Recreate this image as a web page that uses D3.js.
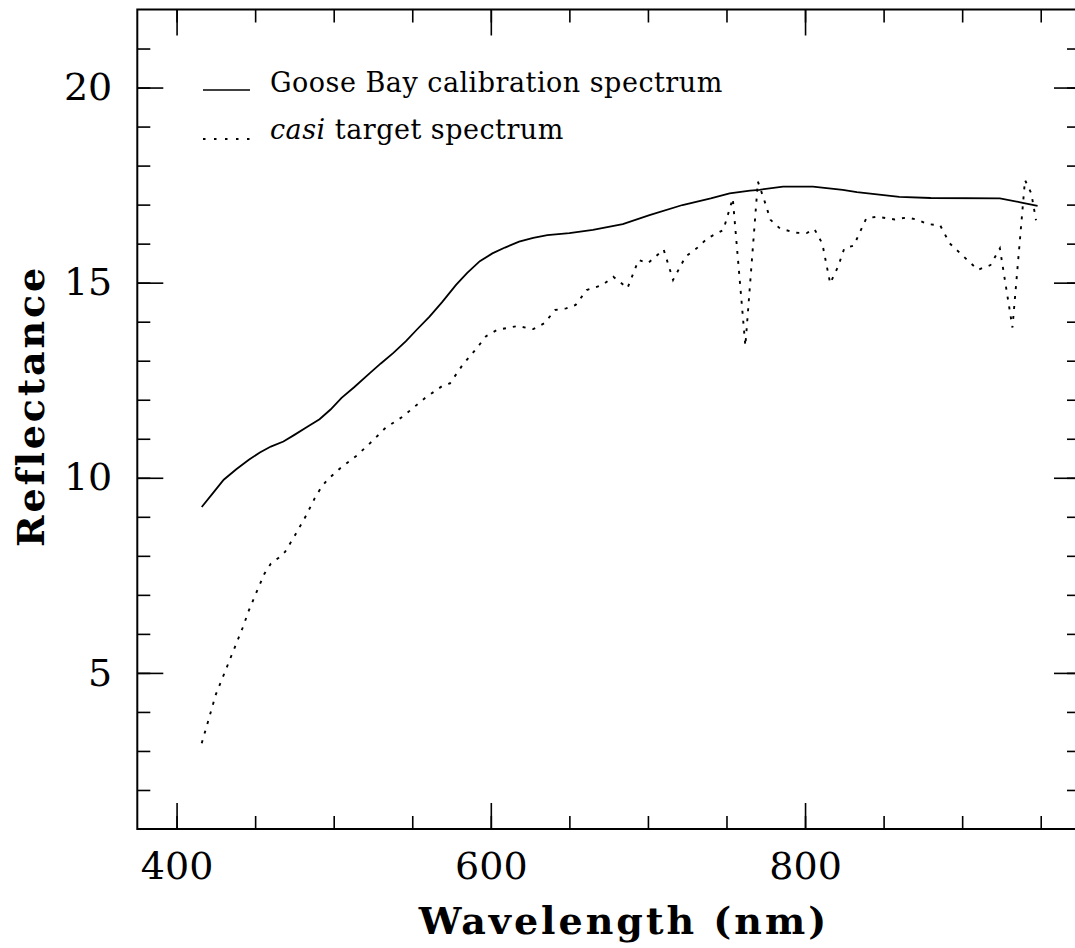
<!DOCTYPE html>
<html>
<head>
<meta charset="utf-8">
<script src="https://cdn.jsdelivr.net/npm/d3@7"></script>
<style>
  body { margin: 0; background: #fff; }
  svg { display: block; font-family: "DejaVu Serif", serif; }
</style>
</head>
<body>
<svg id="chart"></svg>
<script>
// Goose Bay calibration spectrum (solid)
var calWavelength = [416, 423, 430, 438, 446, 453, 460, 468, 475, 483, 491, 498, 505, 513, 523, 530, 538, 546, 553, 561, 569, 578, 585, 593, 601, 609, 618, 627, 636, 650, 665, 684, 701, 722, 740, 752, 765, 771, 786, 805, 824, 833, 860, 880, 924, 937, 948];
var calReflectance = [9.25, 9.6, 9.95, 10.22, 10.46, 10.65, 10.8, 10.93, 11.1, 11.3, 11.5, 11.75, 12.05, 12.32, 12.68, 12.93, 13.2, 13.5, 13.8, 14.13, 14.5, 14.95, 15.25, 15.55, 15.75, 15.9, 16.05, 16.15, 16.22, 16.27, 16.35, 16.5, 16.73, 16.99, 17.16, 17.29, 17.36, 17.38, 17.46, 17.46, 17.38, 17.32, 17.2, 17.17, 17.16, 17.06, 16.97];

// casi target spectrum (dotted)
var casiWavelength = [416, 420, 425, 432, 437, 442, 446, 451, 456, 460, 465, 469, 475, 482, 488, 492, 496, 504, 515, 524, 533, 544, 558, 569, 574, 582, 591, 597, 604, 617, 627, 634, 641, 648, 654, 661, 671, 678, 687, 694, 700, 710, 716, 724, 731, 738, 748, 754, 762, 770, 774, 778, 784, 794, 801, 806, 811, 816, 821, 825, 831, 839, 846, 857, 865, 871, 878, 886, 892, 902, 910, 918, 924, 932, 940, 944, 947];
var casiReflectance = [3.2, 3.75, 4.45, 5.15, 5.65, 6.15, 6.6, 7.08, 7.55, 7.8, 7.95, 8.1, 8.5, 9.0, 9.48, 9.75, 9.95, 10.24, 10.58, 10.92, 11.28, 11.57, 12.04, 12.35, 12.42, 12.89, 13.32, 13.63, 13.79, 13.89, 13.81, 13.96, 14.3, 14.34, 14.43, 14.81, 14.94, 15.15, 14.86, 15.58, 15.5, 15.85, 15.07, 15.67, 15.88, 16.14, 16.35, 17.16, 13.38, 17.59, 17.12, 16.61, 16.39, 16.28, 16.27, 16.37, 16.0, 14.98, 15.41, 15.88, 15.95, 16.65, 16.69, 16.62, 16.67, 16.62, 16.5, 16.47, 16.01, 15.63, 15.33, 15.45, 15.88, 13.85, 17.63, 17.29, 16.6];

var xMajorTicks = [400, 600, 800];
var xMinorTicks = [400, 450, 500, 550, 600, 650, 700, 750, 800, 850, 900, 950];
var yMajorTicks = [5, 10, 15, 20];
var yMinorTicks = [2, 3, 4, 5, 6, 7, 8, 9, 10, 11, 12, 13, 14, 15, 16, 17, 18, 19, 20, 21];

var seriesNames = ["Goose Bay calibration spectrum", "target spectrum"];

var svgWidth = 1075;
var svgHeight = 948;
var svg = d3.select("#chart")
    .attr("width", svgWidth)
    .attr("height", svgHeight);

var plotLeft = 137.3, plotRight = 1080, plotTop = 9.5, plotBottom = 829;

var x = d3.scaleLinear().domain([375, 975]).range([plotLeft, plotRight]);
var y = d3.scaleLinear().domain([1, 22]).range([plotBottom, plotTop]);

function styleAxis(g) {
  g.select(".domain").remove();
  g.selectAll(".tick line").attr("stroke", "#000").attr("stroke-width", 1.6);
  g.selectAll(".tick text")
    .attr("fill", "#000")
    .style("font-family", "DejaVu Serif")
    .style("font-size", "38px");
}

// minor ticks on all four sides (inward)
svg.append("g").attr("transform", "translate(0," + plotBottom + ")")
  .call(d3.axisBottom(x).tickValues(xMinorTicks).tickSize(-13).tickFormat(""))
  .call(styleAxis);
svg.append("g").attr("transform", "translate(0," + plotTop + ")")
  .call(d3.axisTop(x).tickValues(xMinorTicks).tickSize(-13).tickFormat(""))
  .call(styleAxis);
svg.append("g").attr("transform", "translate(" + plotLeft + ",0)")
  .call(d3.axisLeft(y).tickValues(yMinorTicks).tickSize(-13).tickFormat(""))
  .call(styleAxis);
svg.append("g").attr("transform", "translate(" + plotRight + ",0)")
  .call(d3.axisRight(y).tickValues(yMinorTicks).tickSize(-13).tickFormat(""))
  .call(styleAxis);

// major ticks, labelled on bottom and left
svg.append("g").attr("transform", "translate(0," + plotBottom + ")")
  .call(d3.axisBottom(x).tickValues(xMajorTicks).tickSize(-26).tickPadding(23).tickFormat(d3.format("d")))
  .call(styleAxis);
svg.append("g").attr("transform", "translate(0," + plotTop + ")")
  .call(d3.axisTop(x).tickValues(xMajorTicks).tickSize(-26).tickFormat(""))
  .call(styleAxis);
svg.append("g").attr("transform", "translate(" + plotLeft + ",0)")
  .call(d3.axisLeft(y).tickValues(yMajorTicks).tickSize(-26).tickPadding(25).tickFormat(d3.format("d")))
  .call(styleAxis);
svg.append("g").attr("transform", "translate(" + plotRight + ",0)")
  .call(d3.axisRight(y).tickValues(yMajorTicks).tickSize(-26).tickFormat(""))
  .call(styleAxis);

// frame
svg.append("rect")
  .attr("x", plotLeft).attr("y", plotTop)
  .attr("width", plotRight - plotLeft).attr("height", plotBottom - plotTop)
  .attr("fill", "none").attr("stroke", "#000").attr("stroke-width", 2);

var line = d3.line()
  .x(function(d) { return x(d[0]); })
  .y(function(d) { return y(d[1]); });

var calData = calWavelength.map(function(w, i) { return [w, calReflectance[i]]; });
var casiData = casiWavelength.map(function(w, i) { return [w, casiReflectance[i]]; });

svg.append("path")
  .datum(calData)
  .attr("d", line)
  .attr("fill", "none")
  .attr("stroke", "#000")
  .attr("stroke-width", 1.8);

svg.append("path")
  .datum(casiData)
  .attr("d", line)
  .attr("fill", "none")
  .attr("stroke", "#000")
  .attr("stroke-width", 1.9)
  .attr("stroke-dasharray", "3,7");

// legend
var legend = svg.append("g");
legend.append("line")
  .attr("x1", 203).attr("x2", 250).attr("y1", 90).attr("y2", 90)
  .attr("stroke", "#000").attr("stroke-width", 1.6);
legend.append("text")
  .attr("x", 270).attr("y", 92)
  .style("font-size", "27px").style("letter-spacing", "0.5px")
  .text(seriesNames[0]);

legend.append("line")
  .attr("x1", 203).attr("x2", 250).attr("y1", 139).attr("y2", 139)
  .attr("stroke", "#000").attr("stroke-width", 1.8)
  .attr("stroke-dasharray", "2.5,8.5");
var t2 = legend.append("text")
  .attr("x", 270).attr("y", 139)
  .style("font-size", "27px").style("letter-spacing", "0.5px");
t2.append("tspan").style("font-style", "italic").text("casi");
t2.append("tspan").text(" " + seriesNames[1]);

// axis titles
svg.append("text")
  .attr("x", 624).attr("y", 934)
  .attr("text-anchor", "middle")
  .style("font-size", "38px").style("font-weight", "bold").style("letter-spacing", "3px")
  .text("Wavelength (nm)");

svg.append("text")
  .attr("transform", "translate(44,406) rotate(-90)")
  .attr("text-anchor", "middle")
  .style("font-size", "38px").style("font-weight", "bold").style("letter-spacing", "2.8px")
  .text("Reflectance");
</script>
</body>
</html>
